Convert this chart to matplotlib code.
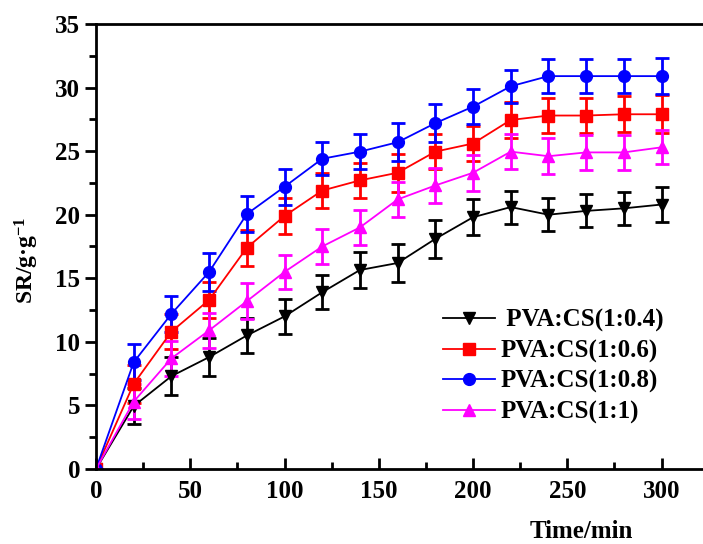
import matplotlib
matplotlib.use("Agg")
import matplotlib.pyplot as plt
from matplotlib.ticker import MultipleLocator

plt.rcParams['font.family'] = 'Liberation Serif'
plt.rcParams['font.weight'] = 'bold'
plt.rcParams['mathtext.default'] = 'regular'

time = [0, 20, 40, 60, 80, 100, 120, 140, 160, 180, 200, 220, 240, 260, 280, 300]

sr_04 = [0, 4.95, 7.3, 8.8, 10.5, 12.0, 13.9, 15.65, 16.2, 18.1, 19.8, 20.6, 20.0, 20.3, 20.5, 20.8]
err_04 = [0, 1.4, 1.5, 1.5, 1.4, 1.35, 1.35, 1.4, 1.5, 1.5, 1.4, 1.3, 1.3, 1.3, 1.3, 1.35]

sr_06 = [0, 6.7, 10.8, 13.3, 17.4, 19.9, 21.9, 22.7, 23.3, 24.96, 25.6, 27.45, 27.8, 27.8, 27.9, 27.9]
err_06 = [0, 1.5, 1.4, 1.4, 1.4, 1.4, 1.4, 1.4, 1.5, 1.4, 1.4, 1.4, 1.4, 1.4, 1.4, 1.5]

sr_08 = [0, 8.4, 12.2, 15.5, 20.05, 22.2, 24.4, 24.96, 25.7, 27.2, 28.5, 30.1, 30.9, 30.9, 30.9, 30.9]
err_08 = [0, 1.4, 1.4, 1.5, 1.4, 1.4, 1.3, 1.4, 1.5, 1.5, 1.4, 1.3, 1.35, 1.35, 1.35, 1.4]

sr_10 = [0, 5.3, 8.7, 10.9, 13.2, 15.5, 17.5, 19.0, 21.2, 22.3, 23.3, 24.96, 24.6, 24.9, 24.9, 25.3]
err_10 = [0, 1.4, 1.4, 1.4, 1.4, 1.35, 1.35, 1.4, 1.4, 1.4, 1.4, 1.4, 1.4, 1.35, 1.35, 1.35]

series = [
    (sr_04, err_04, 'black', 'v', ' PVA:CS(1:0.4)'),
    (sr_06, err_06, 'red', 's', 'PVA:CS(1:0.6)'),
    (sr_08, err_08, 'blue', 'o', 'PVA:CS(1:0.8)'),
    (sr_10, err_10, 'magenta', '^', 'PVA:CS(1:1)'),
]

fig = plt.figure(figsize=(7.03, 5.44), dpi=100)
ax = fig.add_axes([0.1366, 0.1379, 1 - 0.1366, 0.818])

for y, e, c, m, lab in series:
    ax.errorbar(time, y, yerr=e, color=c, marker=m, markersize=8.5, lw=1.3,
                elinewidth=2, capsize=5, capthick=2, label=lab)

ax.set_xlim(0, 322)
ax.set_ylim(0, 35)
ax.xaxis.set_major_locator(MultipleLocator(50))
ax.xaxis.set_minor_locator(MultipleLocator(25))
ax.yaxis.set_major_locator(MultipleLocator(5))
ax.yaxis.set_minor_locator(MultipleLocator(2.5))
ax.tick_params(axis='x', which='both', direction='in', width=2, labelsize=18, pad=8)
ax.tick_params(axis='x', which='major', length=8)
ax.tick_params(axis='x', which='minor', length=5)
ax.tick_params(axis='y', which='both', direction='out', width=2, labelsize=18)
ax.tick_params(axis='y', which='major', length=8)
ax.tick_params(axis='y', which='minor', length=5)
for s in ['left', 'bottom', 'top']:
    ax.spines[s].set_linewidth(2)
ax.spines['right'].set_visible(False)

ax.set_ylabel('SR/g·g$^{-1}$', fontsize=17, fontweight='bold')
ax.yaxis.set_label_coords(-0.09, 0.47)
ax.set_xlabel('Time/min', fontsize=18, fontweight='bold')
ax.xaxis.set_label_coords(0.80, -0.115)

handles, labels = ax.get_legend_handles_labels()
handles = [h[0] for h in handles]
ax.legend(handles, labels, loc='upper left', bbox_to_anchor=(0.534, 0.41),
          frameon=False, fontsize=18, handlelength=2.1, handletextpad=0.2,
          labelspacing=0.28)

fig.savefig('out.png', dpi=100)
